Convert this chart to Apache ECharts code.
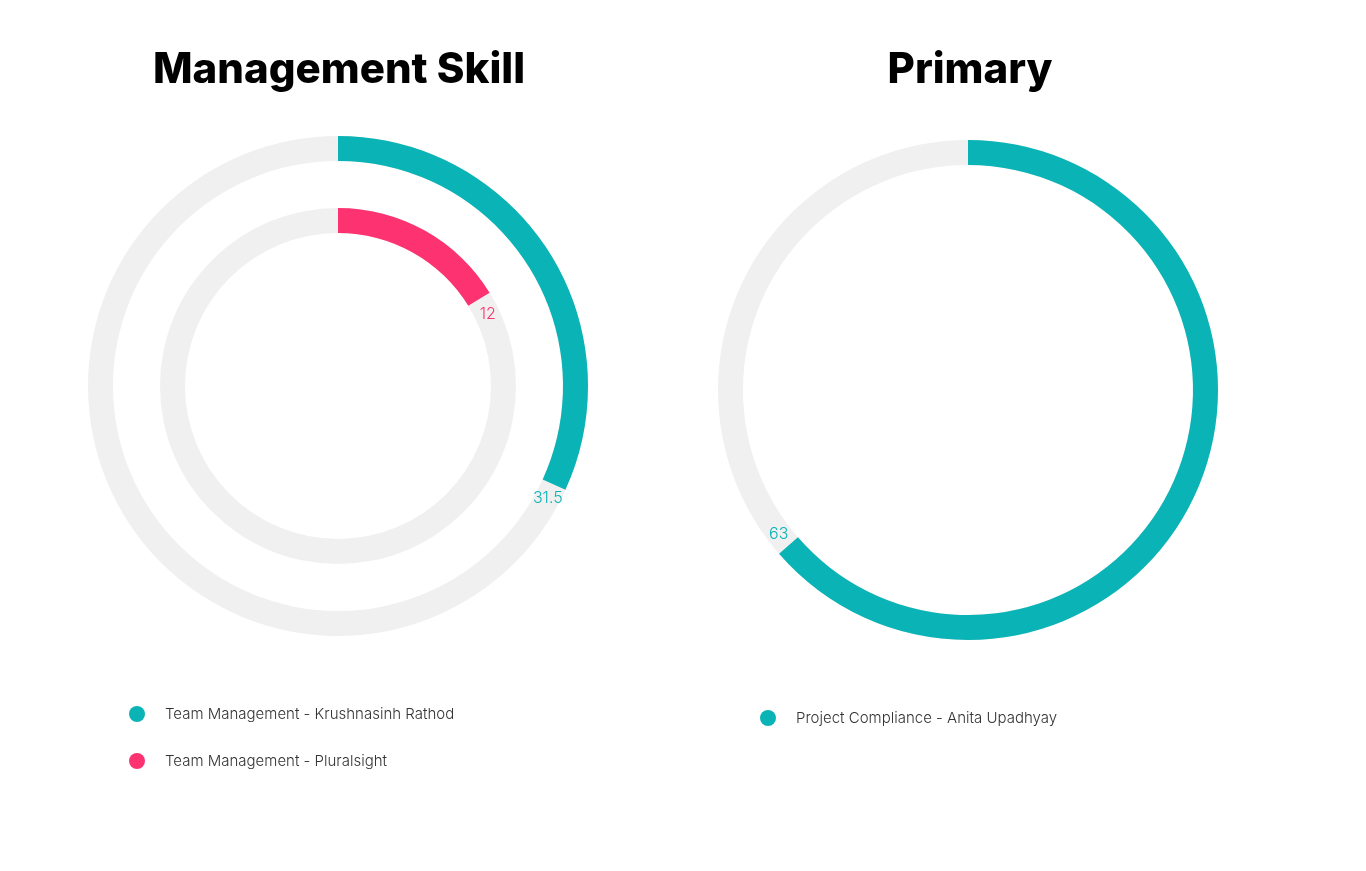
<!DOCTYPE html>
<html>
<head>
<meta charset="utf-8">
<script src="https://cdn.jsdelivr.net/npm/echarts@6/dist/echarts.min.js"></script>
<style>
  html, body { margin: 0; padding: 0; background: #fff; }
  #main { width: 1366px; height: 871px; }
</style>
</head>
<body>
<div id="main"></div>
<script>
// 数据
var titles = ['Management Skill', 'Primary'];
var seriesNames = [
    'Team Management - Krushnasinh Rathod',
    'Team Management - Pluralsight',
    'Project Compliance - Anita Upadhyay'
];
var seriesValues = [31.5, 12, 63];
var ringMax = [99, 74, 99];
var colors = ['#0ab3b5', '#fc3370', '#0ab3b5'];

var chart = echarts.init(document.getElementById('main'));

var fontTitle = 'Inter, "Noto Sans", sans-serif';
var fontText = 'Inter, "Noto Sans", sans-serif';

// 每个圆环一个极坐标
var polars = [
    { center: [338, 386], radius: [225, 250] },
    { center: [338, 386], radius: [153, 178] },
    { center: [968, 390], radius: [225, 250] }
];
var labelDist = [15, 17, 15];

var angleAxes = [], radiusAxes = [], series = [];
for (var i = 0; i < seriesValues.length; i++) {
    angleAxes.push({
        polarIndex: i, type: 'value', min: 0, max: ringMax[i], startAngle: 90,
        show: false
    });
    radiusAxes.push({
        polarIndex: i, type: 'category', data: [''], show: false
    });
    series.push({
        name: seriesNames[i],
        type: 'bar',
        coordinateSystem: 'polar',
        polarIndex: i,
        barCategoryGap: '0%',
        data: [seriesValues[i]],
        itemStyle: { color: colors[i] },
        showBackground: true,
        backgroundStyle: { color: '#f0f0f0' },
        label: {
            show: true,
            position: 'end',
            rotate: 0,
            distance: labelDist[i],
            align: 'center',
            verticalAlign: 'middle',
            color: colors[i],
            fontFamily: fontText,
            fontWeight: 300,
            fontSize: 16,
            formatter: '{c}'
        },
        z: 2,
        silent: true
    });
}

var option = {
    backgroundColor: '#fff',
    title: [
        { text: titles[0], left: 334, top: 44, textAlign: 'center',
          textStyle: { fontFamily: fontTitle, fontWeight: 800, fontSize: 42, color: '#000' } },
        { text: titles[1], left: 965, top: 44, textAlign: 'center',
          textStyle: { fontFamily: fontTitle, fontWeight: 800, fontSize: 42, color: '#000' } }
    ],
    legend: [
        {
            data: [seriesNames[0], seriesNames[1]],
            orient: 'vertical', left: 124, top: 701,
            icon: 'circle', itemWidth: 16, itemHeight: 16, itemGap: 31,
            textStyle: { fontFamily: fontText, fontWeight: 300, fontSize: 15, color: '#333', padding: [0, 0, 0, 15] }
        },
        {
            data: [seriesNames[2]],
            orient: 'vertical', left: 755, top: 705,
            icon: 'circle', itemWidth: 16, itemHeight: 16,
            textStyle: { fontFamily: fontText, fontWeight: 300, fontSize: 15, color: '#333', padding: [0, 0, 0, 15] }
        }
    ],
    polar: polars,
    angleAxis: angleAxes,
    radiusAxis: radiusAxes,
    series: series
};

chart.setOption(option);
</script>
</body>
</html>
